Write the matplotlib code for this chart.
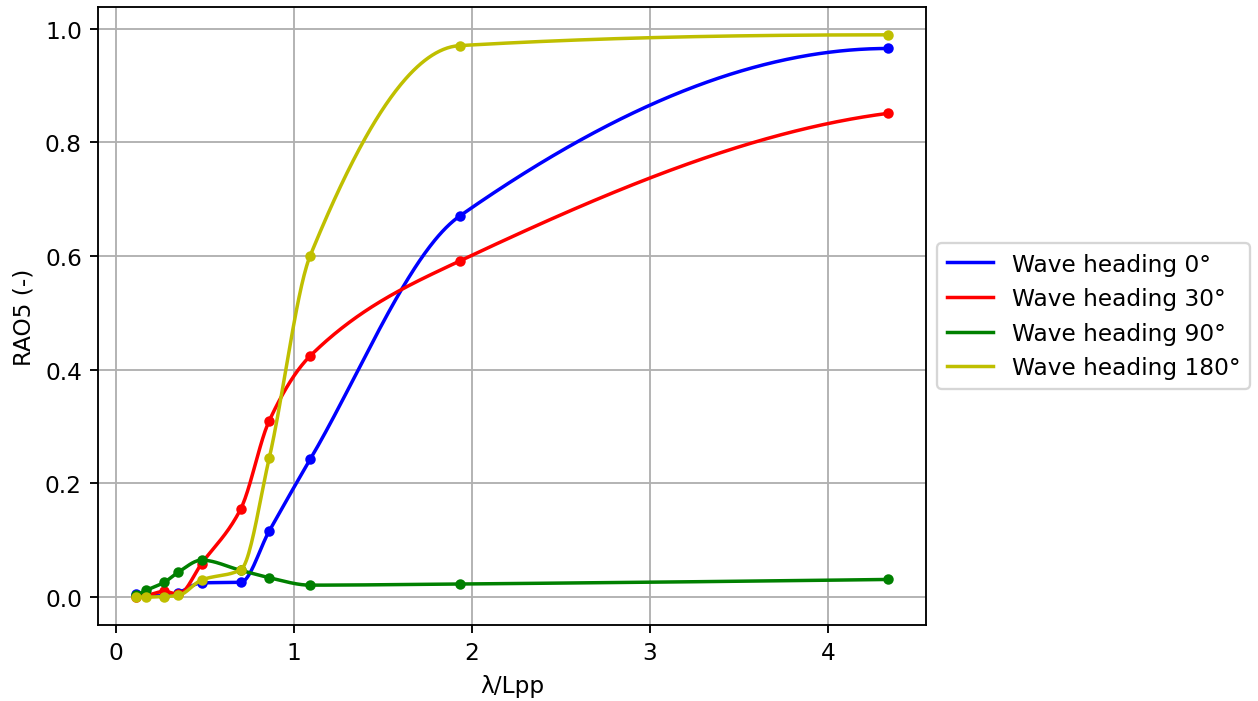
import numpy as np
import matplotlib
matplotlib.use("Agg")
import matplotlib.pyplot as plt

# wave length over ship length
lam_lpp = [0.11, 0.17, 0.27, 0.35, 0.48, 0.70, 0.86, 1.09, 1.93, 4.34]

rao_0 = [0.005, 0.003, 0.002, 0.008, 0.025, 0.026, 0.116, 0.242, 0.670, 0.965]
rao_30 = [0.001, 0.003, 0.010, 0.005, 0.059, 0.155, 0.310, 0.424, 0.591, 0.851]
rao_90 = [0.003, 0.012, 0.026, 0.044, 0.065, 0.047, 0.034, 0.021, 0.023, 0.031]
rao_180 = [0.0, 0.0, 0.001, 0.003, 0.030, 0.048, 0.244, 0.600, 0.970, 0.989]

labels = ["Wave heading 0°", "Wave heading 30°", "Wave heading 90°", "Wave heading 180°"]
colors = ["b", "r", "g", "y"]


def pchip(x, y, xs):
	# monotone cubic (Fritsch-Carlson), same as scipy's PchipInterpolator
	x = np.asarray(x, float)
	y = np.asarray(y, float)
	h = np.diff(x)
	d = np.diff(y) / h
	n = len(x)
	m = np.zeros(n)
	for k in range(1, n - 1):
		if d[k - 1] * d[k] > 0:
			w1 = 2 * h[k] + h[k - 1]
			w2 = h[k] + 2 * h[k - 1]
			m[k] = (w1 + w2) / (w1 / d[k - 1] + w2 / d[k])

	def edge(h0, h1, d0, d1):
		v = ((2 * h0 + h1) * d0 - h0 * d1) / (h0 + h1)
		if np.sign(v) != np.sign(d0):
			v = 0.0
		elif np.sign(d0) != np.sign(d1) and abs(v) > abs(3 * d0):
			v = 3 * d0
		return v

	m[0] = edge(h[0], h[1], d[0], d[1])
	m[-1] = edge(h[-1], h[-2], d[-1], d[-2])

	idx = np.clip(np.searchsorted(x, xs) - 1, 0, n - 2)
	t = (xs - x[idx]) / h[idx]
	h00 = 2 * t**3 - 3 * t**2 + 1
	h10 = t**3 - 2 * t**2 + t
	h01 = -2 * t**3 + 3 * t**2
	h11 = t**3 - t**2
	return h00 * y[idx] + h10 * h[idx] * m[idx] + h01 * y[idx + 1] + h11 * h[idx] * m[idx + 1]


DPI = 167
fig, ax = plt.subplots(figsize=(1258 / DPI, 702 / DPI), dpi=DPI)
fig.subplots_adjust(left=0.078, right=0.736, bottom=0.108, top=0.989)

xs = np.linspace(lam_lpp[0], lam_lpp[-1], 600)
for vals, lab, c in zip([rao_0, rao_30, rao_90, rao_180], labels, colors):
	ax.plot(xs, pchip(lam_lpp, vals, xs), color=c, label=lab)
	ax.plot(lam_lpp, vals, "o", color=c, markersize=3.5)

ax.set_xlabel("λ/Lpp")
ax.set_ylabel("RAO5 (-)")
ax.grid(True)
ax.legend(loc="center left", bbox_to_anchor=(1, 0.5))

fig.savefig("out.png", dpi=DPI)
